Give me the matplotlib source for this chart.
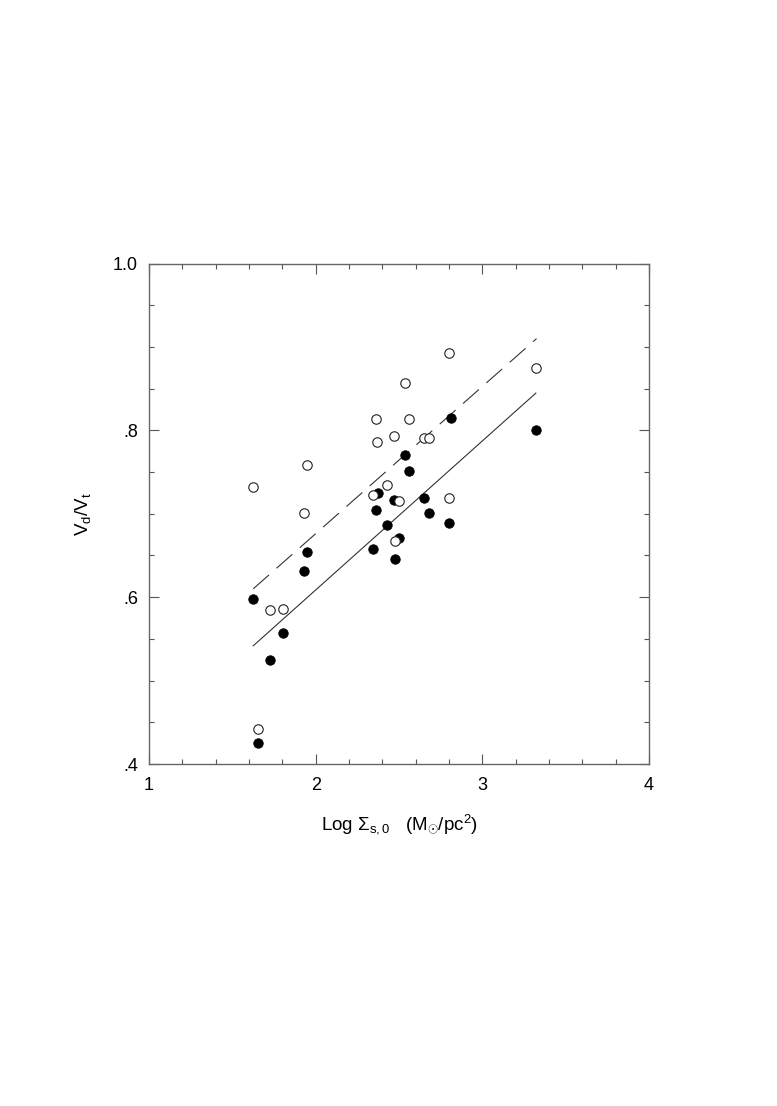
import numpy as np
import matplotlib
matplotlib.use('Agg')
import matplotlib.pyplot as plt
from matplotlib.ticker import MultipleLocator, FixedFormatter, FixedLocator

plt.rcParams['font.family'] = ['Liberation Sans', 'DejaVu Sans']
plt.rcParams['mathtext.fontset'] = 'custom'
plt.rcParams['mathtext.rm'] = 'Liberation Sans'
plt.rcParams['mathtext.it'] = 'Liberation Sans'
plt.rcParams['font.size'] = 13

# open circles
open_x = [1.625, 1.950, 1.930, 2.359, 2.559, 2.535, 2.369, 2.471, 2.647, 2.681,
          2.429, 2.343, 2.497, 2.473, 2.802, 2.802, 3.321, 1.727, 1.804, 1.655]
open_y = [0.732, 0.759, 0.701, 0.8135, 0.8135, 0.857, 0.786, 0.793, 0.791, 0.791,
          0.735, 0.723, 0.715, 0.667, 0.893, 0.7186, 0.875, 0.585, 0.586, 0.4415]

# filled circles
fill_x = [1.625, 1.950, 1.930, 2.535, 2.559, 2.373, 2.359, 2.471, 2.429, 2.499,
          2.343, 2.473, 2.647, 2.681, 2.802, 2.812, 3.321, 1.804, 1.727, 1.655]
fill_y = [0.598, 0.654, 0.632, 0.770, 0.751, 0.725, 0.7045, 0.716, 0.686, 0.6707,
          0.6575, 0.646, 0.7186, 0.7006, 0.689, 0.815, 0.800, 0.5565, 0.5245, 0.4248]

# fit lines (end points)
dash_x = [1.625, 3.325]
dash_y = [0.610, 0.910]
solid_x = [1.625, 3.321]
solid_y = [0.5417, 0.8447]

fig = plt.figure(figsize=(7.77, 11.06), dpi=100)
ax = fig.add_axes([0.1918, 0.3092, 0.6435, 0.4525])

ax.plot(dash_x, dash_y, color='#333333', lw=0.8, dashes=(19, 9))
ax.plot(solid_x, solid_y, color='#333333', lw=0.8)

ax.plot(fill_x, fill_y, 'o', ms=6.8, mfc='black', mec='black', mew=0.6)
ax.plot(open_x, open_y, 'o', ms=6.8, mfc='white', mec='#222222', mew=0.8)

ax.set_xlim(1, 4)
ax.set_ylim(0.4, 1.0)

ax.xaxis.set_major_locator(FixedLocator([1, 2, 3, 4]))
ax.xaxis.set_major_formatter(FixedFormatter(['1', '2', '3', '4']))
ax.xaxis.set_minor_locator(MultipleLocator(0.2))
ax.yaxis.set_major_locator(FixedLocator([0.4, 0.6, 0.8, 1.0]))
ax.yaxis.set_major_formatter(FixedFormatter(['.4', '.6', '.8', '1.0']))
ax.yaxis.set_minor_locator(MultipleLocator(0.05))

ax.tick_params(which='both', direction='in', top=True, right=True, color='#555555', width=0.8)
ax.tick_params(which='major', length=7)
ax.tick_params(which='minor', length=3.5)
ax.tick_params(axis='x', which='major', pad=9, labelsize=13)
ax.tick_params(axis='y', which='major', pad=8, labelsize=13)

for s in ax.spines.values():
    s.set_color('#666666')
    s.set_linewidth(1.0)

ax.set_xlabel(r'Log $\Sigma_{\rm s,0}$   (M$_{\odot}$/pc$^{2}$)', fontsize=13.5, labelpad=13)
ax.set_ylabel(r'V$_{\rm d}$/V$_{\rm t}$', fontsize=13.5, labelpad=14)

fig.savefig('out.png', dpi=100)
